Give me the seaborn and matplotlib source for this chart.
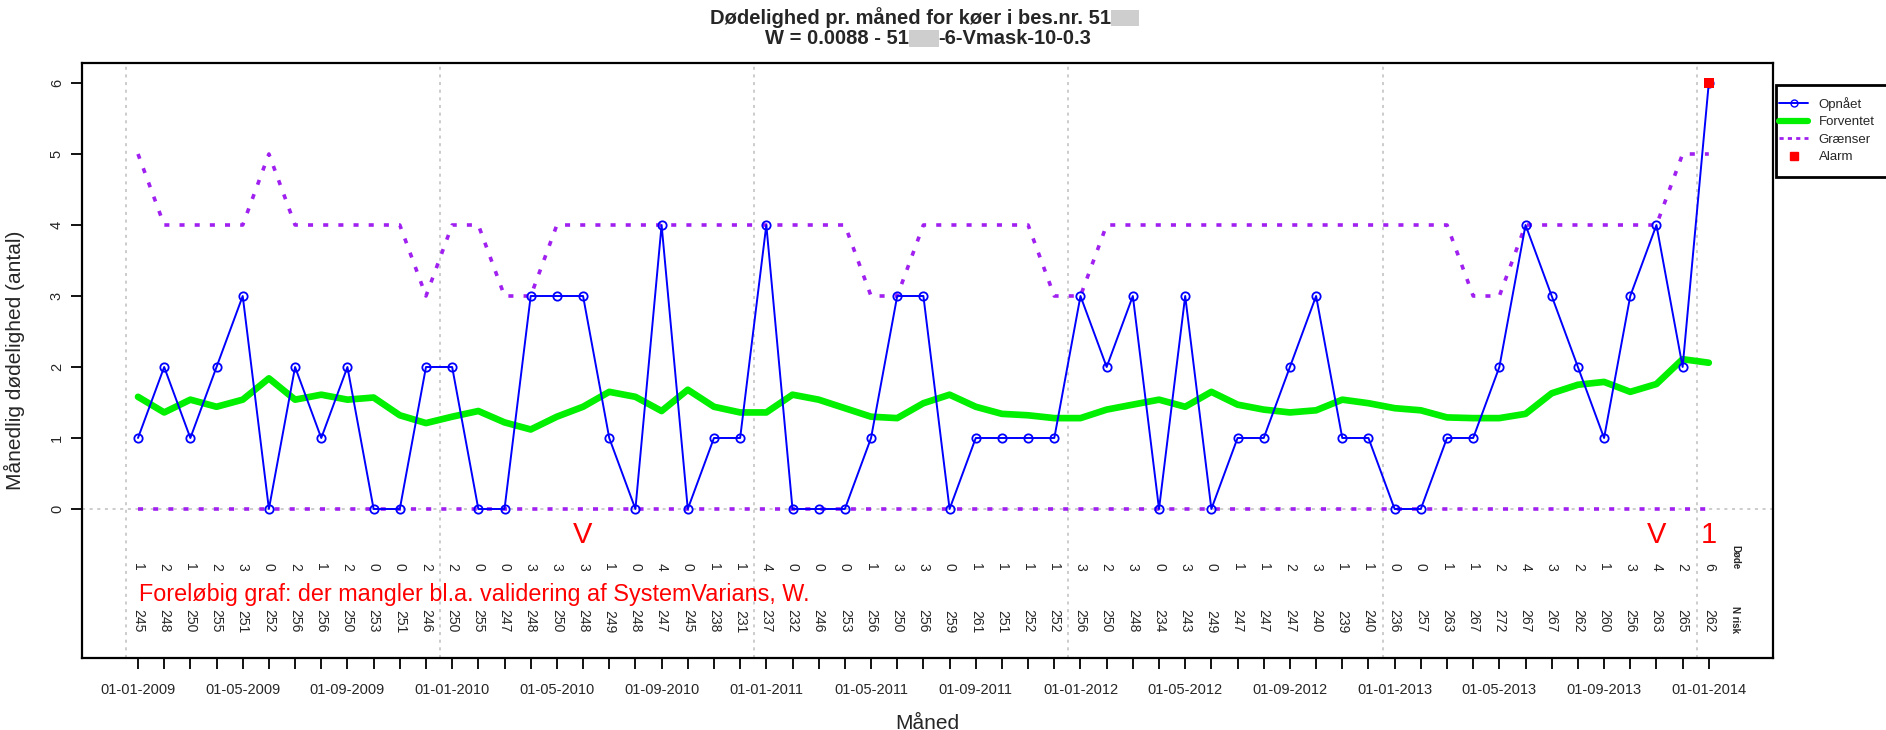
import matplotlib
matplotlib.use("Agg")
import matplotlib.pyplot as plt
from matplotlib.patches import Rectangle
from matplotlib.lines import Line2D
import numpy as np
import pandas as pd
import seaborn as sns

# ---------------- data ----------------
months = pd.date_range("2009-01-01", "2014-01-01", freq="MS")

observed = [1, 2, 1, 2, 3, 0, 2, 1, 2, 0, 0, 2,
            2, 0, 0, 3, 3, 3, 1, 0, 4, 0, 1, 1,
            4, 0, 0, 0, 1, 3, 3, 0, 1, 1, 1, 1,
            3, 2, 3, 0, 3, 0, 1, 1, 2, 3, 1, 1,
            0, 0, 1, 1, 2, 4, 3, 2, 1, 3, 4, 2,
            6]

expected = [1.58, 1.36, 1.54, 1.44, 1.54, 1.84, 1.54, 1.61, 1.54, 1.57, 1.32, 1.21,
            1.30, 1.38, 1.22, 1.12, 1.30, 1.44, 1.65, 1.58, 1.38, 1.68, 1.44, 1.36,
            1.36, 1.61, 1.54, 1.42, 1.30, 1.28, 1.49, 1.61, 1.44, 1.34, 1.32, 1.28,
            1.28, 1.40, 1.47, 1.54, 1.44, 1.65, 1.47, 1.40, 1.36, 1.39, 1.54, 1.49,
            1.42, 1.39, 1.29, 1.28, 1.28, 1.34, 1.63, 1.75, 1.79, 1.65, 1.76, 2.11,
            2.06]

upper = [5, 4, 4, 4, 4, 5, 4, 4, 4, 4, 4, 3,
         4, 4, 3, 3, 4, 4, 4, 4, 4, 4, 4, 4,
         4, 4, 4, 4, 3, 3, 4, 4, 4, 4, 4, 3,
         3, 4, 4, 4, 4, 4, 4, 4, 4, 4, 4, 4,
         4, 4, 4, 3, 3, 4, 4, 4, 4, 4, 4, 5,
         5]

lower = [0, 0, 0, 0, 0, 0, 0, 0, 0, 0, 0, 0,
         0, 0, 0, 0, 0, 0, 0, 0, 0, 0, 0, 0,
         0, 0, 0, 0, 0, 0, 0, 0, 0, 0, 0, 0,
         0, 0, 0, 0, 0, 0, 0, 0, 0, 0, 0, 0,
         0, 0, 0, 0, 0, 0, 0, 0, 0, 0, 0, 0,
         0]

at_risk = [245, 248, 250, 255, 251, 252, 256, 256, 250, 253, 251, 246,
           250, 255, 247, 248, 250, 248, 249, 248, 247, 245, 238, 231,
           237, 232, 246, 253, 256, 250, 256, 259, 261, 251, 252, 252,
           256, 250, 248, 234, 243, 249, 247, 247, 247, 240, 239, 240,
           236, 257, 263, 267, 272, 267, 267, 262, 260, 256, 263, 265,
           262]

tick_labels = ["01-01-2009", "01-05-2009", "01-09-2009",
               "01-01-2010", "01-05-2010", "01-09-2010",
               "01-01-2011", "01-05-2011", "01-09-2011",
               "01-01-2012", "01-05-2012", "01-09-2012",
               "01-01-2013", "01-05-2013", "01-09-2013",
               "01-01-2014"]

signal_months = [17, 58, 60]
signal_marks = ["V", "V", "1"]
alarm_months = [60]
alarm_values = [6]

series_labels = ["Opnået", "Forventet", "Grænser", "Alarm"]
row_labels = ["Døde", "N risk"]
note_text = "Foreløbig graf: der mangler bl.a. validering af SystemVarians, W."

# ---------------- style ----------------
sns.set_theme(style="white")
plt.rcParams["font.family"] = ["Liberation Sans", "DejaVu Sans"]

W, H = 1886, 730
fig = plt.figure(figsize=(W / 100, H / 100), dpi=100)
fig.patch.set_facecolor("white")

L, R, T, B = 82, 1773, 63, 658
ax = fig.add_axes([L / W, 1 - B / H, (R - L) / W, (B - T) / H])

BLUE = "#0000FF"
GREEN = "#00F000"
PURPLE = "#A020F0"
RED = "#FF0000"
GRID = "#BEBEBE"

df = pd.DataFrame({
    "m": np.arange(len(months)),
    "observed": observed,
    "expected": expected,
    "upper": upper,
    "lower": lower,
})

px_per_month = 26.18
xlo = (L - 138) / px_per_month
xhi = (R - 138) / px_per_month
ylo, yhi = (509 - B) / 71.0, (509 - T) / 71.0
ax.set_xlim(xlo, xhi)
ax.set_ylim(ylo, yhi)

# grid: yearly vertical dotted lines & zero line
year_starts = df["m"][months.month == 1].to_numpy()
for xs in year_starts:
    ax.axvline(xs - 0.46, color=GRID, lw=1.1, dashes=(2, 3), zorder=0)
ax.axhline(0, color=GRID, lw=1.1, dashes=(2, 3), zorder=0)

# limits
sns.lineplot(data=df, x="m", y="upper", ax=ax, color=PURPLE, lw=2.6, zorder=2)
ax.lines[-1].set_dashes([1.4, 2.8])
sns.lineplot(data=df, x="m", y="lower", ax=ax, color=PURPLE, lw=2.6, zorder=2)
ax.lines[-1].set_dashes([1.4, 2.8])
# expected
sns.lineplot(data=df, x="m", y="expected", ax=ax, color=GREEN, lw=4.8, zorder=3)
# observed
sns.lineplot(data=df, x="m", y="observed", ax=ax, color=BLUE, lw=1.4, zorder=4,
             marker="o", markersize=6, markerfacecolor="none",
             markeredgecolor=BLUE, markeredgewidth=1.3)
# alarm
sns.scatterplot(x=alarm_months, y=alarm_values, ax=ax, color=RED, marker="s",
                s=55, edgecolor="none", zorder=6)

# text rows below the zero line
for m, s in zip(signal_months, signal_marks):
    ax.text(m, -0.37, s, color=RED, fontsize=21, ha="center", va="center")
for m, c in zip(df["m"], observed):
    ax.text(m, -0.81, str(c), rotation=270, fontsize=10, ha="center", va="center")
for m, n in zip(df["m"], at_risk):
    ax.text(m, -1.58, str(n), rotation=270, fontsize=10, ha="center", va="center")
ax.text(61.0, -0.68, row_labels[0], rotation=270, fontsize=7, fontweight="bold",
        ha="center", va="center")
ax.text(61.0, -1.55, row_labels[1], rotation=270, fontsize=7, fontweight="bold",
        ha="center", va="center")
ax.text(0.03, -1.21, note_text, color=RED, fontsize=16.8, ha="left", va="center")

# axes
ax.set_xticks(df["m"][::4], labels=tick_labels, fontsize=10.5)
ax.set_xticks(df["m"], minor=True)
ax.tick_params(axis="x", which="both", direction="out", length=8, width=1.3,
               color="black", bottom=True, pad=10)
ax.set_yticks(range(0, 7))
ax.set_yticklabels([str(v) for v in range(0, 7)], rotation=90, va="center", fontsize=10.5)
ax.tick_params(axis="y", direction="out", length=8, width=1.3, color="black", left=True, pad=5)
for sp in ax.spines.values():
    sp.set_color("black")
    sp.set_linewidth(1.6)
ax.set_xlabel("Måned", fontsize=15, labelpad=12)
ax.set_ylabel("Månedlig dødelighed (antal)", fontsize=15)
ax.yaxis.set_label_coords((25 - L) / (R - L), 0.5)

# legend (frame drawn separately so padding matches the reference box)
fig.patches.append(Rectangle((1776 / W, 1 - 177 / H), (1892 - 1776) / W, 92 / H,
                             transform=fig.transFigure, facecolor="white",
                             edgecolor="black", linewidth=2, zorder=5))
handles = [
    Line2D([], [], color=BLUE, lw=1.4, marker="o", markersize=5, markerfacecolor="none",
           markeredgecolor=BLUE),
    Line2D([], [], color=GREEN, lw=4.5),
    Line2D([], [], color=PURPLE, lw=2, dashes=[1.5, 1.5]),
    Line2D([], [], color=RED, marker="s", ls="none", markersize=6),
]
leg = fig.legend(handles, series_labels, loc="upper left",
                 bbox_to_anchor=(1779 / W, 1 - 97 / H), fontsize=9.5,
                 frameon=False, borderpad=0, labelspacing=0.4, handlelength=2.2,
                 handletextpad=0.8, borderaxespad=0)
leg.set_zorder(6)

# title in pieces (hidden digits as grey blur boxes)
renderer = fig.canvas.get_renderer()

def px_text(x, y, s, **kw):
    return fig.text(x / W, 1 - y / H, s, **kw)

def title_line(parts, blur_w, cy, cx):
    widths = []
    objs = []
    for p in parts:
        t = px_text(0, cy, p, fontsize=14.5, fontweight="bold", ha="left", va="center")
        objs.append(t)
        widths.append(t.get_window_extent(renderer).width)
    total = sum(widths) + blur_w * (len(parts) - 1) if len(parts) > 1 else sum(widths) + blur_w
    x = cx - total / 2
    for i, (t, w) in enumerate(zip(objs, widths)):
        t.set_x(x / W)
        x += w
        if i < len(parts) - 1 or len(parts) == 1:
            fig.patches.append(Rectangle((x / W, 1 - (cy + 8) / H), blur_w / W, 16 / H,
                                         transform=fig.transFigure, facecolor="#C9C9C9",
                                         edgecolor="none", alpha=0.9))
            x += blur_w

title_line(["Dødelighed pr. måned for køer i bes.nr. 51"], 28, 18, 924)
title_line(["W = 0.0088 - 51", "-6-Vmask-10-0.3"], 30, 38.5, 928)

fig.savefig("out.png", dpi=100)
